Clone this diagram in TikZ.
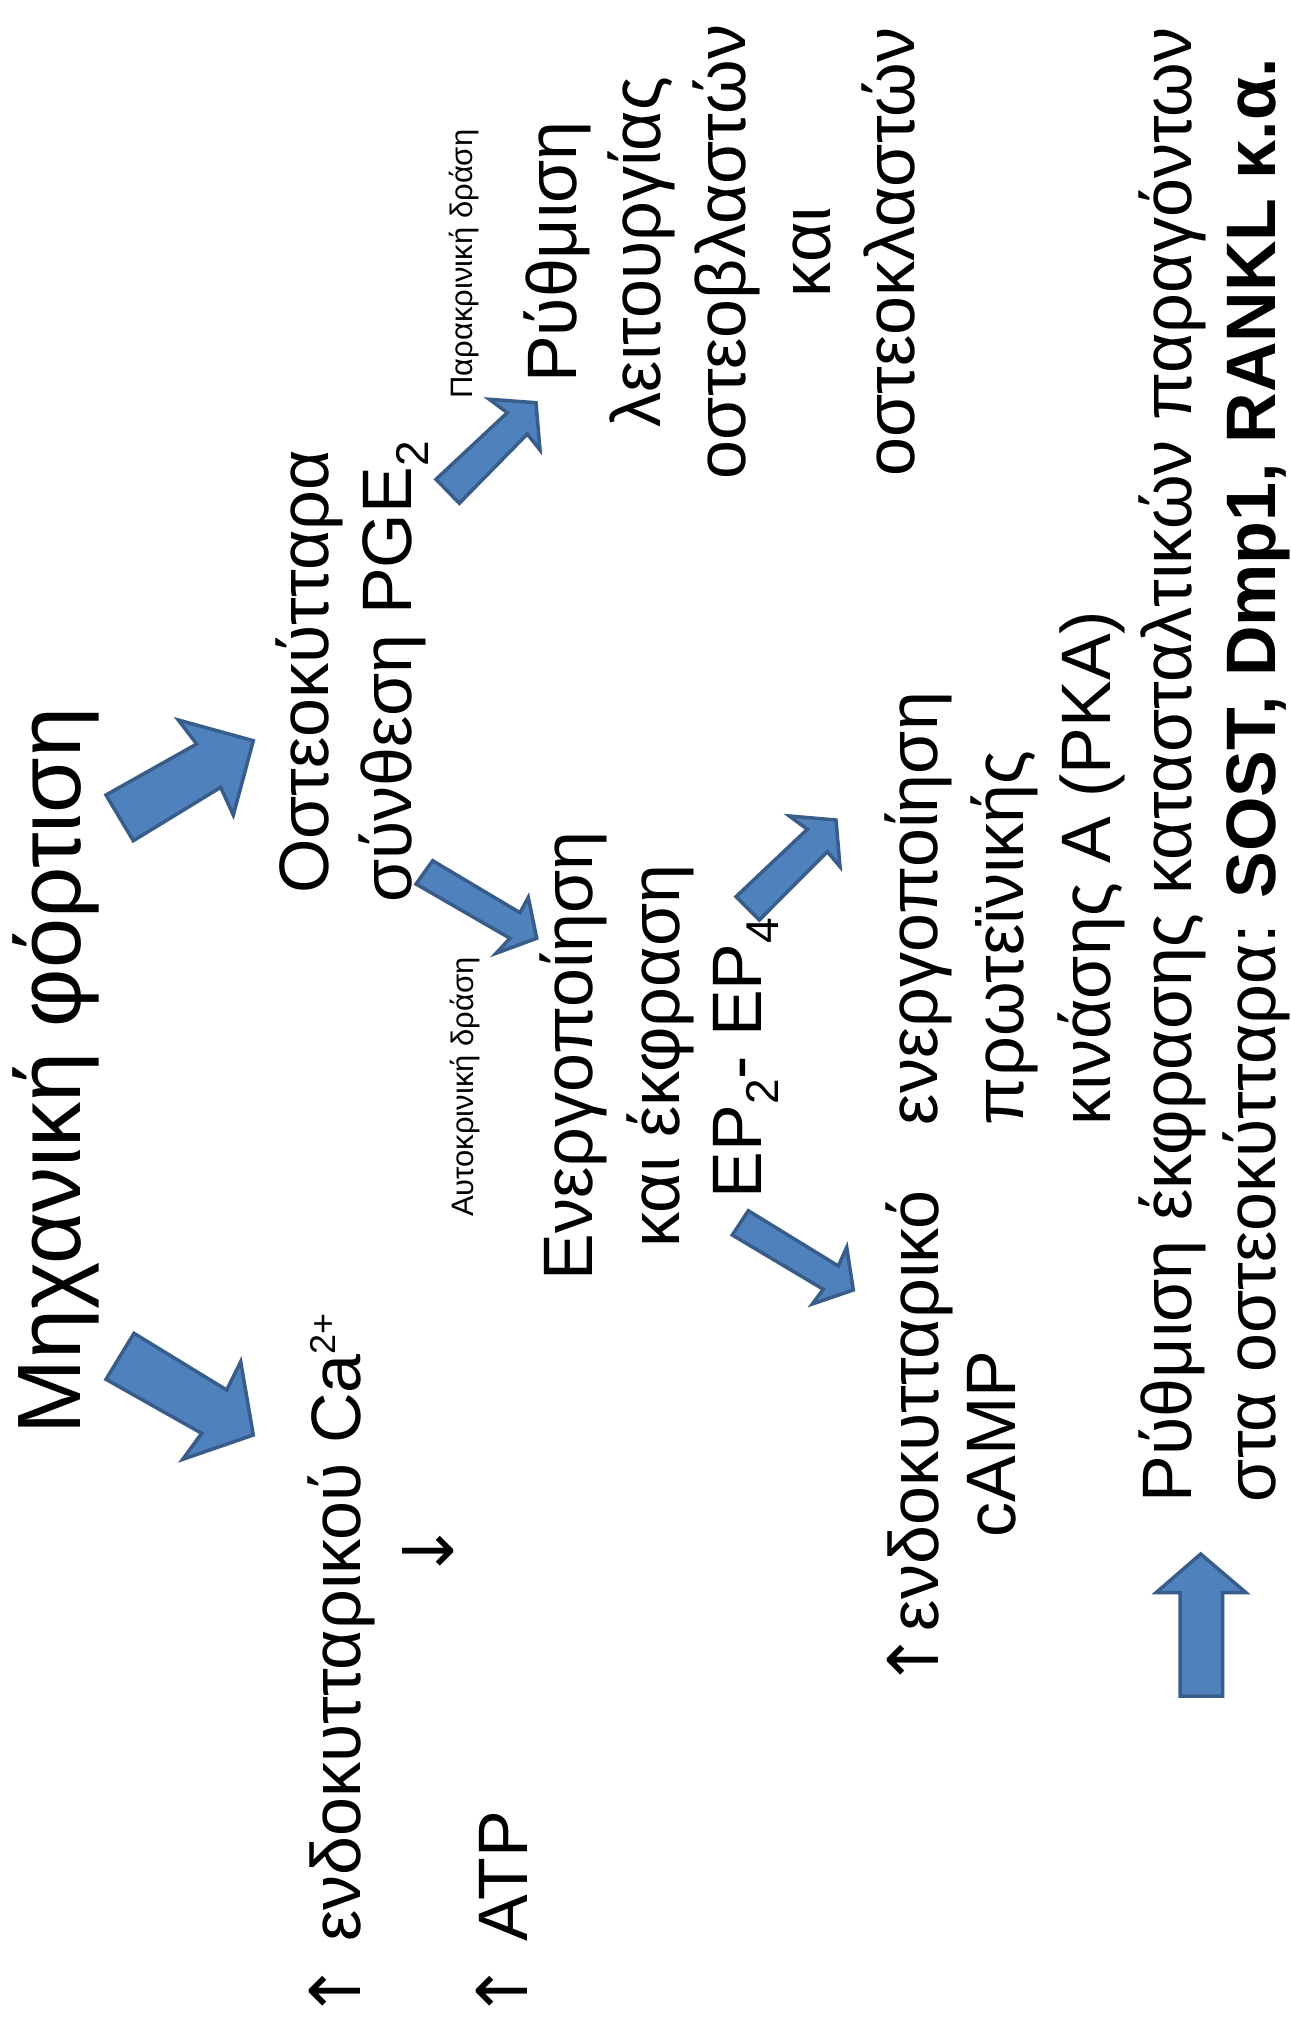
\documentclass[tikz,border=0pt]{standalone}
\usepackage{fontspec}
\setmainfont{Liberation Sans}
\newfontfamily\arrowfam{DejaVu Sans}
\definecolor{arrowfill}{HTML}{4F81BD}
\definecolor{arrowline}{HTML}{385D8A}
\newcommand{\lowidx}[1]{\raisebox{-17pt}{\fontsize{46}{46}\selectfont #1}}
\newcommand{\highidx}[1]{\raisebox{25pt}{\fontsize{36}{36}\selectfont #1}}
\newcommand{\uparr}{{\arrowfam ↑}}
\tikzset{
  txt/.style={rotate=90, inner sep=0pt, outer sep=0pt, font=\fontsize{70}{84}\selectfont},
  ttl/.style={txt, font=\fontsize{90}{106}\selectfont},
  note/.style={txt, font=\fontsize{31}{37}\selectfont},
  blockarrow/.style={fill=arrowfill, draw=arrowline, line width=3.5pt, line join=miter}
}
\begin{document}
\begin{tikzpicture}[x=1pt, y=-1pt]
\useasboundingbox (0,0) rectangle (1290,2031);
\fill[white] (0,0) rectangle (1290,2031);

% title
\node[ttl, anchor=base west] (title) at (80,1434) {Μηχανική φόρτιση};

% osteocytes
\node[txt, anchor=base] (ost1) at (328,672) {Οστεοκύτταρα};
\node[txt, anchor=base] (ost2) at (411,672) {σύνθεση PGE\lowidx{2}};

% regulation of osteoblasts / osteoclasts
\node[txt, anchor=base] (reg1) at (576,252) {Ρύθμιση};
\node[txt, anchor=base] (reg2) at (660,252) {λειτουργίας};
\node[txt, anchor=base] (reg3) at (745,252) {οστεοβλαστών};
\node[txt, anchor=base] (reg4) at (830,252) {και};
\node[txt, anchor=base] (reg5) at (914,252) {οστεοκλαστών};

% small labels
\node[note, anchor=base] (para) at (472,264) {Παρακρινική δράση};
\node[note, anchor=base] (auto) at (473,1087) {Αυτοκρινική δράση};

% receptors
\node[txt, anchor=base] (ep1) at (592,1056) {Ενεργοποίηση};
\node[txt, anchor=base] (ep2) at (679,1056) {και έκφραση};
\node[txt, anchor=base] (ep3) at (761,1058) {EP\lowidx{2}- EP\lowidx{4}};

% protein kinase A
\node[txt, anchor=base west] (pka1) at (937,1125) {ενεργοποίηση};
\node[txt, anchor=base west] (pka2) at (1023,1125) {πρωτεϊνικής};
\node[txt, anchor=base west] (pka3) at (1110,1125) {κινάσης Α (PKA)};

% cAMP
\node[txt, anchor=base] (camp1) at (938,1440) {\uparr ενδοκυτταρικό};
\node[txt, anchor=base] (camp2) at (1015,1444) {cAMP};

% calcium / ATP
\node[txt, anchor=base west] (ca) at (360,2020) {\uparr\ ενδοκυτταρικού Ca\highidx{2+}};
\node[txt, anchor=center] (down) at (428,1551) {\arrowfam ↓};
\node[txt, anchor=base west] (atp) at (527,2020) {\uparr\ ATP};

% bottom statement
\node[txt, anchor=base west] (sup1) at (1191,1502) {Ρύθμιση έκφρασης κατασταλτικών παραγόντων};
\node[txt, anchor=base west] (sup2) at (1275,1502) {στα οστεοκύτταρα: {\bfseries SOST, Dmp1, RANKL κ.α.}};

% block arrows
\draw[blockarrow] (106,795) -- (196.7,744) -- (178.3,720) -- (253.3,740.7) -- (233.3,815) -- (220.7,787.3) -- (133.3,840.7) -- cycle;
\draw[blockarrow] (134,1333.3) -- (226.7,1390) -- (240.7,1361.7) -- (253.3,1435) -- (182.7,1459.3) -- (201.7,1433.3) -- (106,1379.3) -- cycle;
\draw[blockarrow] (432.7,860.7) -- (520,912.7) -- (528.3,897.3) -- (536.7,938.3) -- (496,953.3) -- (510,938.3) -- (416,884) -- cycle;
\draw[blockarrow] (436,479.3) -- (507.3,412.7) -- (489.3,399.3) -- (536,402.7) -- (540,450) -- (527.3,434) -- (459.3,503.3) -- cycle;
\draw[blockarrow] (736,896.7) -- (807.3,829.3) -- (789.3,816) -- (836,820) -- (840,866.7) -- (827.3,851.7) -- (759.3,920) -- cycle;
\draw[blockarrow] (748.3,1210.7) -- (838.3,1266) -- (846.7,1247.3) -- (853.3,1290) -- (812.3,1304) -- (823.3,1289.3) -- (732.3,1235) -- cycle;
\draw[blockarrow] (1200.7,1554) -- (1246,1592.7) -- (1222.7,1592.7) -- (1222.7,1696) -- (1180,1696) -- (1180,1592.7) -- (1156,1592.7) -- cycle;
\end{tikzpicture}
\end{document}
